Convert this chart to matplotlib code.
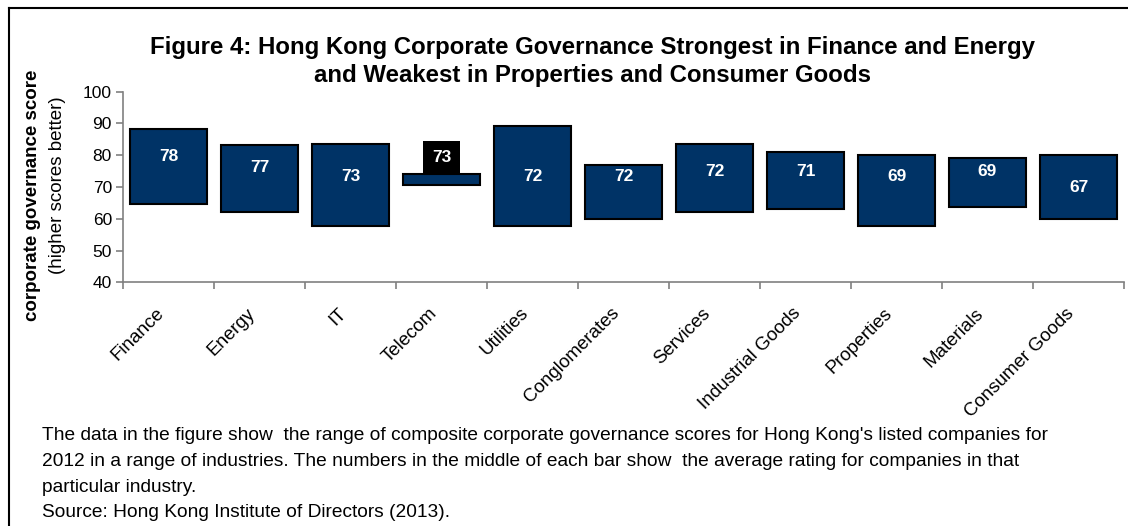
import matplotlib
matplotlib.use('Agg')
import matplotlib.pyplot as plt
from matplotlib.lines import Line2D
from matplotlib.transforms import ScaledTranslation

plt.rcParams['font.family'] = ['Liberation Sans', 'DejaVu Sans']

# Données
categories = ['Finance', 'Energy', 'IT', 'Telecom', 'Utilities', 'Conglomerates',
              'Services', 'Industrial Goods', 'Properties', 'Materials', 'Consumer Goods']
low_scores = [64.8, 62.0, 57.7, 70.7, 57.7, 59.9, 62.0, 63.1, 57.7, 63.7, 59.9]
high_scores = [88.3, 83.3, 83.4, 74.2, 89.3, 76.8, 83.4, 81.1, 80.2, 79.0, 80.2]
avg_scores = [78, 77, 73, 73, 72, 72, 72, 71, 69, 69, 67]
# hauteur où l'étiquette de moyenne est écrite
label_at = [79.5, 76.2, 73.2, 79.3, 73.2, 73.2, 74.8, 74.8, 73.2, 74.8, 69.8]

title = ("Figure 4: Hong Kong Corporate Governance Strongest in Finance and Energy\n"
         "and Weakest in Properties and Consumer Goods")
note_lines = [
    "The data in the figure show  the range of composite corporate governance scores for Hong Kong's listed companies for",
    "2012 in a range of industries. The numbers in the middle of each bar show  the average rating for companies in that",
    "particular industry.",
    "Source: Hong Kong Institute of Directors (2013).",
]

navy = '#003366'
grey = '#808080'

fig = plt.figure(figsize=(11.28, 5.26), dpi=100)
ax = fig.add_axes([123 / 1128, 1 - 282.3 / 526, (1124 - 123) / 1128, (282.3 - 91.7) / 526])

x = [i + 0.5 for i in range(len(categories))]
heights = [h - l for h, l in zip(high_scores, low_scores)]
ax.bar(x, heights, bottom=low_scores, width=0.845, color=navy,
       edgecolor='black', linewidth=1.5, zorder=2)

# Étiquettes des moyennes
for i, (xi, avg, ly) in enumerate(zip(x, avg_scores, label_at)):
    if categories[i] == 'Telecom':
        ax.text(xi, ly, str(avg), ha='center', va='center', color='white',
                fontsize=12.5, fontweight='bold', zorder=3,
                bbox=dict(boxstyle='square,pad=0.5', facecolor='black', edgecolor='none'))
    else:
        ax.text(xi, ly, str(avg), ha='center', va='center', color='white',
                fontsize=12.5, fontweight='bold', zorder=3)

# Axes
ax.set_xlim(0, len(categories))
ax.set_ylim(40, 100)
ax.set_yticks(range(40, 101, 10))
ax.set_xticks(x)
ax.set_xticklabels(categories, rotation=45, ha='right', rotation_mode='anchor', fontsize=13.5)
ax.set_xticks(range(len(categories) + 1), minor=True)
ax.tick_params(axis='x', which='major', length=0, pad=14)
ax.tick_params(axis='x', which='minor', length=5, color=grey, width=1.2)
ax.tick_params(axis='y', length=5, color=grey, width=1.2, labelsize=12.5, pad=3)
for lab in ax.get_xticklabels():
    lab.set_transform(lab.get_transform() + ScaledTranslation(-0.13, -0.03, fig.dpi_scale_trans))
for side in ['top', 'right']:
    ax.spines[side].set_visible(False)
for side in ['left', 'bottom']:
    ax.spines[side].set_color(grey)
    ax.spines[side].set_linewidth(1.2)

# Titre et titre de l'axe y
fig.text(593 / 1128, 1 - 61.5 / 526, title, ha='center', va='center', fontsize=17.3,
         fontweight='bold', linespacing=1.27)
fig.text(33 / 1128, 1 - 195 / 526, 'corporate governance score', rotation=90,
         ha='center', va='center', fontsize=13.5, fontweight='bold')
fig.text(58 / 1128, 1 - 185 / 526, '(higher scores better)', rotation=90,
         ha='center', va='center', fontsize=13.5)

# Note de bas de figure
for k, line in enumerate(note_lines):
    fig.text(42 / 1128, 1 - (436 + 25.5 * k) / 526, line, ha='left', va='center', fontsize=13.8)

# Cadre
fig.add_artist(Line2D([9 / 1128, 9 / 1128], [0, 1 - 8 / 526], color='black', lw=1.5))
fig.add_artist(Line2D([9 / 1128, 1], [1 - 8 / 526, 1 - 8 / 526], color='black', lw=1.5))

plt.savefig('out.png', dpi=100)
